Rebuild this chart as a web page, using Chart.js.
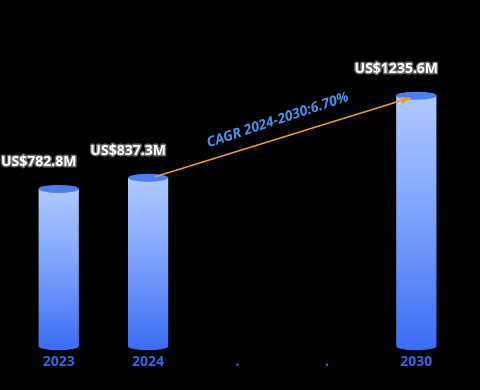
<!DOCTYPE html>
<html>
<head>
<meta charset="utf-8">
<script src="https://cdn.jsdelivr.net/npm/chart.js@4.4.0/dist/chart.umd.min.js"></script>
<style>
  html, body { margin: 0; padding: 0; background: #000; }
  #wrap { width: 480px; height: 390px; }
</style>
</head>
<body>
<div id="wrap"><canvas id="myChart" width="480" height="390"></canvas></div>
<script>
// datos del grafico
const categorias = ["2023", "2024", ".", ".", "2030"];
const valores = [782.8, 837.3, null, null, 1235.6];
const etiquetas = ["US$782.8M", "US$837.3M", "", "", "US$1235.6M"];
const textoCagr = "CAGR 2024-2030:6.70%";

// plugin que dibuja los cilindros, las etiquetas y la flecha
const cilindros = {
  id: "cilindros",
  afterDatasetsDraw(chart) {
    const ctx = chart.ctx;
    const meta = chart.getDatasetMeta(0);
    const ry = 4;
    ctx.save();
    meta.data.forEach((bar, i) => {
      if (valores[i] == null) return;
      const w = bar.width;
      const left = bar.x - w / 2;
      const grad = ctx.createLinearGradient(0, bar.y, 0, bar.base);
      grad.addColorStop(0, "#afc9ff");
      grad.addColorStop(0.5, "#7aa0fb");
      grad.addColorStop(1, "#3b6cf3");
      // cuerpo
      ctx.fillStyle = grad;
      ctx.beginPath();
      ctx.moveTo(left, bar.y);
      ctx.lineTo(left, bar.base - ry);
      ctx.ellipse(bar.x, bar.base - ry, w / 2, ry, 0, Math.PI, 0, true);
      ctx.lineTo(left + w, bar.y);
      ctx.closePath();
      ctx.fill();
      // tapa superior
      ctx.fillStyle = "#4a80f2";
      ctx.beginPath();
      ctx.ellipse(bar.x, bar.y, w / 2, ry, 0, 0, Math.PI * 2);
      ctx.fill();
      // etiqueta
      ctx.font = "bold 14px 'Noto Sans', sans-serif";
      ctx.textAlign = "center";
      ctx.textBaseline = "middle";
      ctx.lineWidth = 3;
      ctx.strokeStyle = "#666";
      ctx.lineJoin = "round";
      ctx.strokeText(etiquetas[i], bar.x - 20, bar.y - 27);
      ctx.fillStyle = "#ffffff";
      ctx.fillText(etiquetas[i], bar.x - 20, bar.y - 27);
    });

    // flecha CAGR
    const a = meta.data[1], b = meta.data[4];
    const x1 = a.x + 7, y1 = a.y - 1;
    const x2 = b.x - 6, y2 = b.y + 2;
    const ang = Math.atan2(y2 - y1, x2 - x1);
    ctx.strokeStyle = "#e8a020";
    ctx.fillStyle = "#e8a020";
    ctx.lineWidth = 1.5;
    ctx.beginPath();
    ctx.moveTo(x1, y1);
    ctx.lineTo(x2, y2);
    ctx.stroke();
    ctx.beginPath();
    ctx.moveTo(x2, y2);
    ctx.lineTo(x2 - 10 * Math.cos(ang - 0.4), y2 - 10 * Math.sin(ang - 0.4));
    ctx.lineTo(x2 - 10 * Math.cos(ang + 0.4), y2 - 10 * Math.sin(ang + 0.4));
    ctx.closePath();
    ctx.fill();

    // texto CAGR
    ctx.translate((x1 + x2) / 2 - 5, (y1 + y2) / 2 - 17);
    ctx.rotate(ang - 0.02);
    ctx.font = "italic bold 14px 'Noto Sans', sans-serif";
    ctx.fillStyle = "#4a8ee8";
    ctx.textAlign = "center";
    ctx.textBaseline = "middle";
    ctx.fillText(textoCagr, 0, 0);
    ctx.restore();
  }
};

const config = {
  type: "bar",
  data: {
    labels: categorias,
    datasets: [{
      data: valores,
      backgroundColor: "rgba(0,0,0,0)",
      barPercentage: 0.9,
      categoryPercentage: 0.5
    }]
  },
  options: {
    responsive: false,
    animation: false,
    layout: { padding: { left: 14, right: 19, top: 0, bottom: 17 } },
    plugins: { legend: { display: false }, tooltip: { enabled: false } },
    scales: {
      x: {
        grid: { display: false, drawTicks: false },
        border: { display: false },
        ticks: {
          color: "#2f68e6",
          font: { size: 14, weight: "bold", family: "'Noto Sans', sans-serif" },
          padding: 3
        }
      },
      y: {
        display: false,
        min: 0,
        max: 1700
      }
    }
  },
  plugins: [cilindros]
};

const myChart = new Chart(document.getElementById("myChart"), config);
</script>
</body>
</html>
